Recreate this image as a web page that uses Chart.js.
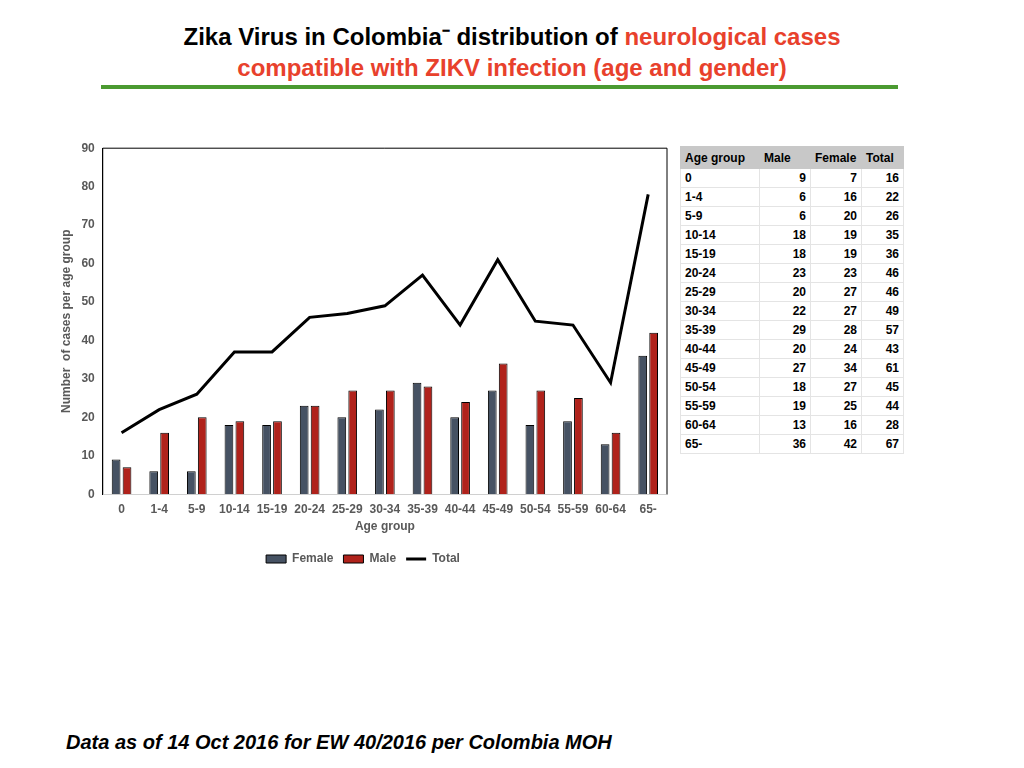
<!DOCTYPE html>
<html>
<head>
<meta charset="utf-8">
<script src="https://cdn.jsdelivr.net/npm/chart.js@4"></script>
<style>
  body { margin: 0; width: 1024px; height: 768px; background: #fff; font-family: "Liberation Sans", Arial, sans-serif; position: relative; overflow: hidden; }
  .title { position: absolute; top: 21px; left: 0; width: 1024px; text-align: center; font-weight: bold; font-size: 24px; line-height: 31px; color: #000; }
  .title .red { color: #e8412c; }
  .rule { position: absolute; left: 101px; top: 85px; width: 797px; height: 4px; background: #4b9a31; }
  #wrap { position: absolute; left: 59px; top: 133px; width: 616px; height: 442px; }
  table { position: absolute; left: 680px; top: 146px; border-collapse: collapse; font-size: 12px; font-weight: bold; color: #000; }
  td, th { height: 18px; padding: 0 4px; border: 1px solid #e4e4e4; }
  th { background: #c8c8c8; text-align: left; height: 21px; border-color: #c8c8c8; }
  td { text-align: right; }
  td:first-child { text-align: left; width: 70px; }
  .foot { position: absolute; left: 66px; top: 731px; font-size: 20px; font-weight: bold; font-style: italic; }
</style>
</head>
<body>
<div class="title">Zika Virus in Colombia&#8315;  distribution of <span class="red">neurological cases</span><br><span class="red">compatible with ZIKV infection (age and gender)</span></div>
<div class="rule"></div>
<div id="wrap"><canvas id="chart"></canvas></div>
<table id="tbl"></table>
<div class="foot">Data as of 14 Oct 2016 for EW 40/2016 per Colombia MOH</div>
<script>
// values
const ageGroups = ['0', '1-4', '5-9', '10-14', '15-19', '20-24', '25-29', '30-34', '35-39', '40-44', '45-49', '50-54', '55-59', '60-64', '65-'];
const female = [9, 6, 6, 18, 18, 23, 20, 22, 29, 20, 27, 18, 19, 13, 36];
const male = [7, 16, 20, 19, 19, 23, 27, 27, 28, 24, 34, 27, 25, 16, 42];
const total = [16, 22, 26, 37, 37, 46, 47, 49, 57, 44, 61, 45, 44, 29, 78];

// table on the right, as printed on the slide
const tableHeaders = ['Age group', 'Male', 'Female', 'Total'];
const tableMale = [9, 6, 6, 18, 18, 23, 20, 22, 29, 20, 27, 18, 19, 13, 36];
const tableFemale = [7, 16, 20, 19, 19, 23, 27, 27, 28, 24, 34, 27, 25, 16, 42];
const tableTotal = [16, 22, 26, 35, 36, 46, 46, 49, 57, 43, 61, 45, 44, 28, 67];

const tbl = document.getElementById('tbl');
let html = '<tr>' + tableHeaders.map(h => '<th>' + h + '</th>').join('') + '</tr>';
ageGroups.forEach((g, i) => {
    html += '<tr><td>' + g + '</td><td style="width:42px">' + tableMale[i] + '</td><td style="width:42px">' + tableFemale[i] + '</td><td style="width:33px">' + tableTotal[i] + '</td></tr>';
});
tbl.innerHTML = html;

const tickColor = '#595959';
const tickFont = { family: 'Liberation Sans', size: 12, weight: 'bold' };

// draws the black frame on left, top and right of the plot
const framePlugin = {
    id: 'frame',
    afterDraw(chart) {
        const a = chart.chartArea;
        const ctx = chart.ctx;
        ctx.save();
        ctx.strokeStyle = '#000';
        ctx.lineWidth = 1;
        ctx.beginPath();
        ctx.moveTo(a.left, a.bottom);
        ctx.lineTo(a.left, a.top);
        ctx.lineTo(a.right, a.top);
        ctx.lineTo(a.right, a.bottom);
        ctx.stroke();
        ctx.restore();
    }
};

new Chart(document.getElementById('chart').getContext('2d'), {
    type: 'bar',
    data: {
        labels: ageGroups,
        datasets: [
            {
                type: 'line',
                label: 'Total',
                data: total,
                borderColor: '#000',
                backgroundColor: '#000',
                borderWidth: 3,
                pointRadius: 0,
                tension: 0,
                order: 0
            },
            {
                label: 'Female',
                data: female,
                backgroundColor: '#465263',
                borderColor: '#000',
                borderWidth: 1,
                categoryPercentage: 0.58,
                barPercentage: 0.8,
                order: 1
            },
            {
                label: 'Male',
                data: male,
                backgroundColor: '#b0221b',
                borderColor: '#000',
                borderWidth: 1,
                categoryPercentage: 0.58,
                barPercentage: 0.8,
                order: 1
            }
        ]
    },
    options: {
        responsive: true,
        maintainAspectRatio: false,
        animation: false,
        layout: { padding: { top: 12, right: 8 } },
        scales: {
            x: {
                grid: { display: false, drawTicks: false },
                border: { color: '#d0d0d0' },
                ticks: { color: tickColor, font: tickFont, padding: 8, maxRotation: 0, autoSkip: false },
                title: { display: true, text: 'Age group', color: tickColor, font: tickFont, padding: { top: -5, bottom: 9 } }
            },
            y: {
                min: 0,
                max: 90,
                grid: { display: false, drawTicks: false },
                border: { color: '#000' },
                ticks: { stepSize: 10, color: tickColor, font: tickFont, padding: 8 },
                title: { display: true, text: 'Number  of cases per age group', color: tickColor, font: tickFont, padding: { top: 0, bottom: 0 } }
            }
        },
        plugins: {
            legend: {
                position: 'bottom',
                labels: {
                    color: tickColor,
                    font: tickFont,
                    usePointStyle: true,
                    pointStyleWidth: 20,
                    boxHeight: 8,
                    padding: 10,
                    sort: (a, b) => ['Female', 'Male', 'Total'].indexOf(a.text) - ['Female', 'Male', 'Total'].indexOf(b.text),
                    generateLabels(chart) {
                        const items = Chart.defaults.plugins.legend.labels.generateLabels(chart);
                        items.forEach(it => { it.pointStyle = it.text === 'Total' ? 'line' : 'rect'; });
                        return items;
                    }
                }
            },
            tooltip: { enabled: false }
        }
    },
    plugins: [framePlugin]
});
</script>
</body>
</html>
